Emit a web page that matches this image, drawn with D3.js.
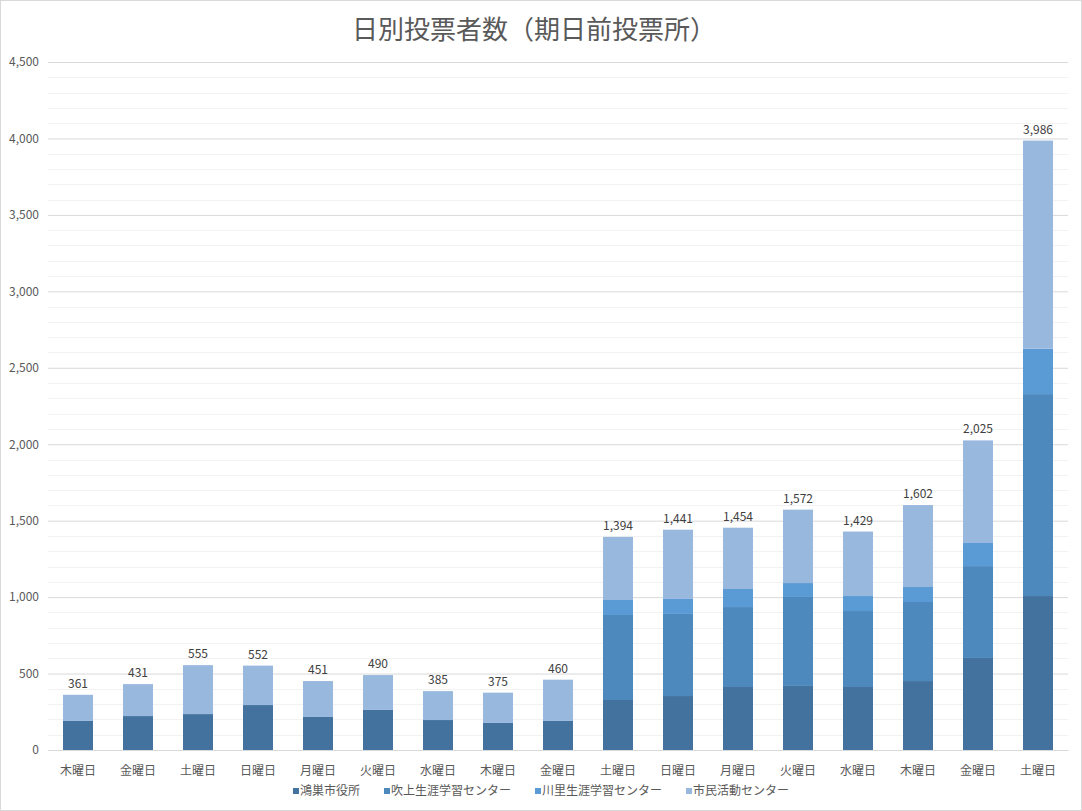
<!DOCTYPE html>
<html>
<head>
<meta charset="utf-8">
<script src="https://cdn.jsdelivr.net/npm/d3@7"></script>
<style>
  body { margin: 0; background: #fff; }
  text { font-family: "Noto Sans CJK JP", "Noto Sans", sans-serif; }
</style>
</head>
<body>
<svg width="1082" height="811"></svg>
<script>
const days = ['木曜日', '金曜日', '土曜日', '日曜日', '月曜日', '火曜日', '水曜日', '木曜日', '金曜日',
  '土曜日', '日曜日', '月曜日', '火曜日', '水曜日', '木曜日', '金曜日', '土曜日'];
const seriesNames = ['鴻巣市役所', '吹上生涯学習センター', '川里生涯学習センター', '市民活動センター'];
const konosu = [190, 222, 235, 294, 216, 262, 196, 177, 190, 327, 353, 412, 419, 412, 451, 602, 1007];
const fukiage = [0, 0, 0, 0, 0, 0, 0, 0, 0, 556, 537, 523, 582, 497, 517, 601, 1321];
const kawasato = [0, 0, 0, 0, 0, 0, 0, 0, 0, 98, 98, 118, 91, 98, 98, 151, 297];
const shimin = [171, 209, 320, 258, 235, 228, 189, 198, 270, 413, 453, 401, 480, 422, 536, 671, 1361];
const yTicks = [0, 500, 1000, 1500, 2000, 2500, 3000, 3500, 4000, 4500];
const colors = ['#43729f', '#4e89be', '#5b9bd5', '#98b8de'];

const rows = days.map((d, i) => ({
  i, day: d,
  s0: konosu[i], s1: fukiage[i], s2: kawasato[i], s3: shimin[i],
  total: konosu[i] + fukiage[i] + kawasato[i] + shimin[i]
}));

const svg = d3.select('svg');
const plotLeft = 48, plotRight = 1068, plotTop = 62, plotBottom = 750;

// chart border
svg.append('rect').attr('x', 0.5).attr('y', 0.5).attr('width', 1081).attr('height', 810)
  .attr('fill', '#fff').attr('stroke', '#d9d9d9');

const x = d3.scaleBand().domain(d3.range(days.length)).range([plotLeft, plotRight])
  .paddingInner(0.5).paddingOuter(0.25);
const y = d3.scaleLinear().domain([0, 4500]).range([plotBottom, plotTop]);

// minor gridlines
svg.append('g').selectAll('line').data(d3.range(100, 4500, 100).filter(v => v % 500 !== 0))
  .enter().append('line')
  .attr('x1', plotLeft).attr('x2', plotRight)
  .attr('y1', d => Math.round(y(d)) + 0.5).attr('y2', d => Math.round(y(d)) + 0.5)
  .attr('stroke', '#f2f2f2');

// major gridlines + y labels
const yAxis = svg.append('g').attr('transform', `translate(${plotLeft},0)`)
  .call(d3.axisLeft(y).tickValues(yTicks).tickSize(-(plotRight - plotLeft)).tickFormat(d3.format(',')));
yAxis.select('.domain').remove();
yAxis.selectAll('.tick line').attr('stroke', '#d9d9d9');
yAxis.selectAll('.tick text').attr('x', -9).attr('fill', '#595959').attr('font-size', 12);

// stacked bars
const stack = d3.stack().keys(['s0', 's1', 's2', 's3'])(rows);
svg.append('g').selectAll('g').data(stack).enter().append('g')
  .attr('fill', (d, k) => colors[k])
  .selectAll('rect').data(d => d).enter().append('rect')
  .attr('x', d => x(d.data.i))
  .attr('width', x.bandwidth())
  .attr('y', d => y(d[1]))
  .attr('height', d => y(d[0]) - y(d[1]));

// x axis
const xAxis = svg.append('g').attr('transform', `translate(0,${plotBottom})`)
  .call(d3.axisBottom(x).tickSize(0).tickFormat(i => days[i]));
xAxis.select('.domain').attr('stroke', '#d9d9d9');
xAxis.selectAll('.tick text').attr('dy', 0).attr('y', 25).attr('fill', '#595959').attr('font-size', 12);

// totals
svg.append('g').selectAll('text').data(rows).enter().append('text')
  .attr('x', d => x(d.i) + x.bandwidth() / 2)
  .attr('y', d => y(d.total) - 7)
  .attr('text-anchor', 'middle').attr('font-size', 12).attr('fill', '#404040')
  .text(d => d3.format(',')(d.total));

// title
svg.append('text').attr('x', 534).attr('y', 39).attr('text-anchor', 'middle')
  .attr('font-size', 26).attr('fill', '#595959').text('日別投票者数（期日前投票所）');

// legend
const legend = svg.append('g');
let lx = 0;
seriesNames.forEach((name, k) => {
  const g = legend.append('g').attr('transform', `translate(${lx},0)`);
  g.append('rect').attr('x', 0).attr('y', -7).attr('width', 6).attr('height', 6).attr('fill', colors[k]);
  const t = g.append('text').attr('x', 7).attr('y', 0).attr('font-size', 12).attr('fill', '#595959').text(name);
  lx += 7 + t.node().getComputedTextLength() + 24;
});
legend.attr('transform', `translate(${541 - (lx - 24) / 2},795)`);
</script>
</body>
</html>
